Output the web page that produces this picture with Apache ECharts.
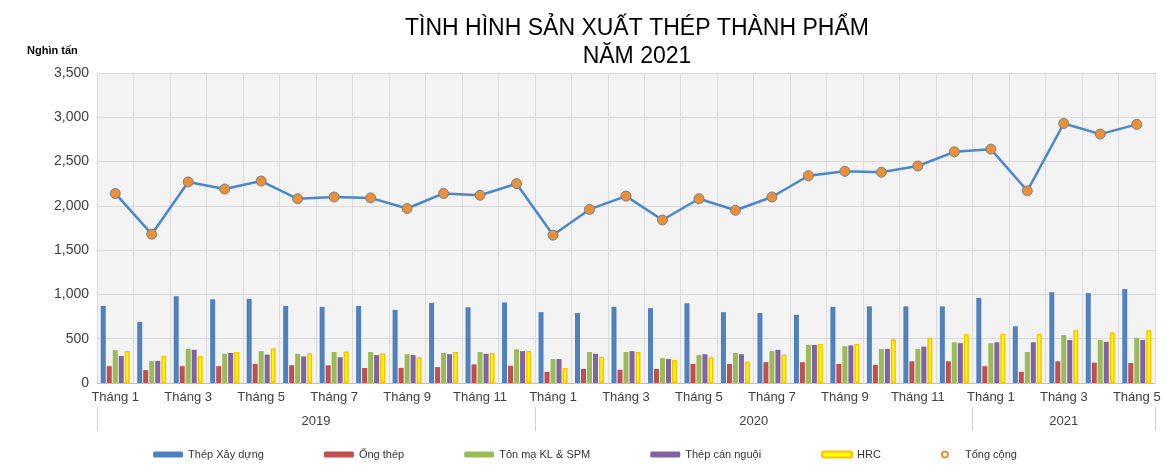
<!DOCTYPE html>
<html><head><meta charset="utf-8">
<script src="https://cdn.jsdelivr.net/npm/echarts@6/dist/echarts.min.js"></script>
<style>html,body{margin:0;padding:0;background:#fff}#c{width:1170px;height:473px}</style>
</head><body><div id="c"></div>
<script>
const months = [];
for (const n of [12,12,5]) for (let i=1;i<=n;i++) months.push('Tháng '+i);
const years = ['2019','2020','2021'];
const thepXD = [870,690,980,945,950,870,860,870,825,905,855,910, 800,790,860,845,900,800,790,770,860,865,865,865, 960,640,1025,1015,1060];
const ongThep = [190,145,190,190,215,200,200,170,170,180,210,195, 125,160,150,160,215,215,235,235,215,205,245,245, 190,125,245,230,225];
const tonMa = [370,250,385,330,360,330,350,350,325,340,350,380, 270,350,350,280,315,340,360,430,415,385,385,460, 450,350,540,485,510];
const canNguoi = [305,250,375,340,320,300,290,315,315,325,330,360, 270,330,360,270,325,325,375,430,425,385,410,450, 460,460,485,465,485];
const hrc = [360,305,305,350,390,335,355,335,290,350,340,360, 170,295,350,260,290,240,320,440,440,495,510,550, 555,555,595,570,595];
const tongCong = [2140,1680,2270,2190,2280,2080,2100,2090,1970,2140,2120,2250, 1670,1960,2110,1840,2080,1950,2100,2340,2390,2380,2450,2610, 2640,2170,2930,2810,2920];

const chart = echarts.init(document.getElementById('c'));
const font = 'Liberation Sans, Arial, sans-serif';
const bar = (name,data,color,extra) => Object.assign({name,type:'bar',data,itemStyle:{color},barWidth:5,barGap:'20%'},extra||{});
chart.setOption({
  animation:false,
  textStyle:{fontFamily:font},
  title:[{text:'TÌNH HÌNH SẢN XUẤT THÉP THÀNH PHẨM\nNĂM 2021',left:632,textAlign:'center',top:10,
    textStyle:{fontSize:23,fontWeight:'normal',color:'#000',lineHeight:28,fontFamily:font}},
    {text:'Nghìn tấn',left:22,top:40,textStyle:{fontSize:11,fontWeight:'bold',color:'#000',fontFamily:font}}],
  legend:{bottom:8,left:'center',itemGap:60,itemWidth:30,itemHeight:6,textStyle:{fontSize:11,color:'#333'},
    data:['Thép Xây dựng','Ống thép','Tôn mạ KL & SPM','Thép cán nguội','HRC',{name:'Tổng cộng',icon:'emptyCircle'}]},
  grid:{left:97,right:15,top:73,bottom:90,show:true,backgroundColor:'#f3f3f3',borderWidth:0},
  xAxis:[{type:'category',data:months,axisLine:{lineStyle:{color:'#bfbfbf'}},axisTick:{show:false},
      axisLabel:{interval:1,color:'#404040',fontSize:13},splitLine:{show:true,interval:0,lineStyle:{color:'#dcdcdc'}}},
    {type:'value',min:0,max:29,position:'bottom',offset:24,gridIndex:0,
      axisLine:{show:false},splitLine:{show:false},
      axisTick:{show:true,customValues:[0,12,24,29],length:24,inside:false,lineStyle:{color:'#d0d0d0'}},
      axisLabel:{customValues:[6,18,26.5],formatter:v=>v<12?years[0]:(v<24?years[1]:years[2]),color:'#404040',fontSize:13,margin:8}}],
  yAxis:{type:'value',min:0,max:3500,interval:500,axisLine:{show:false},axisTick:{show:false},
    axisLabel:{color:'#404040',fontSize:14},splitLine:{lineStyle:{color:'#d9d9d9'}}},
  series:[
    bar('Thép Xây dựng',thepXD,'#4f81bd'),
    bar('Ống thép',ongThep,'#c0504d'),
    bar('Tôn mạ KL & SPM',tonMa,'#9bbb59'),
    bar('Thép cán nguội',canNguoi,'#8064a2'),
    bar('HRC',hrc,'#ffff00',{itemStyle:{color:'#ffff00',borderColor:'#ffc000',borderWidth:1.5}}),
    {name:'Tổng cộng',type:'line',data:tongCong,symbol:'circle',symbolSize:10,
      lineStyle:{color:'#4a86d0',width:2.5},itemStyle:{color:'#e8913a',borderColor:'#7f7f7f',borderWidth:1}}
  ]
});
</script></body></html>
